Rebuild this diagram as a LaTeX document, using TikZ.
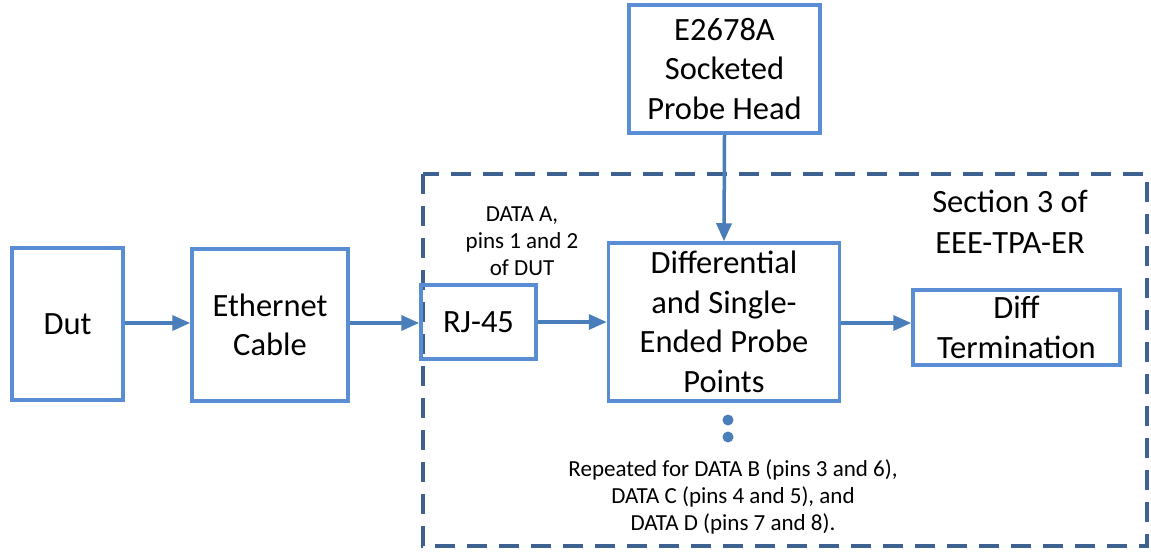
\documentclass[tikz,border=0pt]{standalone}
\usepackage{fontspec}
\setmainfont{Carlito}
\usetikzlibrary{arrows.meta}
\definecolor{boxblue}{HTML}{5A8ED4}
\definecolor{arrblue}{HTML}{4A7EBB}
\definecolor{dashblue}{HTML}{3E6190}
\begin{document}
\begin{tikzpicture}[x=1pt,y=-1pt,
  blk/.style={draw=boxblue,line width=3.5pt,inner sep=0pt,align=center,font=\fontsize{32.5}{39.5}\selectfont},
  conn/.style={draw=arrblue,line width=3.5pt,-{Triangle[length=18pt,width=15pt]}},
  small/.style={align=center,font=\fontsize{23}{27}\selectfont}]
\useasboundingbox (0,0) rectangle (1151,552);
\draw[dashblue,line width=3.5pt,dash pattern=on 20pt off 12pt] (423,174) rectangle (1147,546);
\node[blk,minimum width=111pt,minimum height=152pt] (dut) at (67.5,324) {Dut};
\node[blk,minimum width=156pt,minimum height=152pt] (eth) at (270,325) {Ethernet\\Cable};
\node[blk,minimum width=115pt,minimum height=74pt] (rj) at (478.5,322) {RJ-45};
\node[blk,minimum width=231pt,minimum height=158pt] (diff) at (724,322) {Differential\\and Single-\\Ended Probe\\Points};
\node[blk,minimum width=207pt,minimum height=75pt] (term) at (1016.5,327.5) {Diff\\Termination};
\node[blk,minimum width=191pt,minimum height=128pt] (probe) at (724.5,69) {E2678A\\Socketed\\Probe Head};
\node[small] (dataa) at (522,241) {DATA A,\\pins 1 and 2\\of DUT};
\node[align=center,font=\fontsize{32.5}{41}\selectfont] (sec) at (1010,222) {Section 3 of\\EEE-TPA-ER};
\node[small] (rep) at (733,497) {Repeated for DATA B (pins 3 and 6),\\DATA C (pins 4 and 5), and\\DATA D (pins 7 and 8).};
\fill[arrblue] (728,420) circle (5.5pt) coordinate (d1);
\fill[arrblue] (728,437) circle (5.5pt) coordinate (d2);
\draw[conn] (dut.east |- 0,323) -- (eth.west |- 0,323);
\draw[conn] (eth.east |- 0,323) -- (rj.west |- 0,323);
\draw[conn] (rj.east |- 0,322) -- (diff.west |- 0,322);
\draw[conn] (diff.east |- 0,323) -- (term.west |- 0,323);
\draw[conn] (probe.south) -- (diff.north);
\end{tikzpicture}
\end{document}
